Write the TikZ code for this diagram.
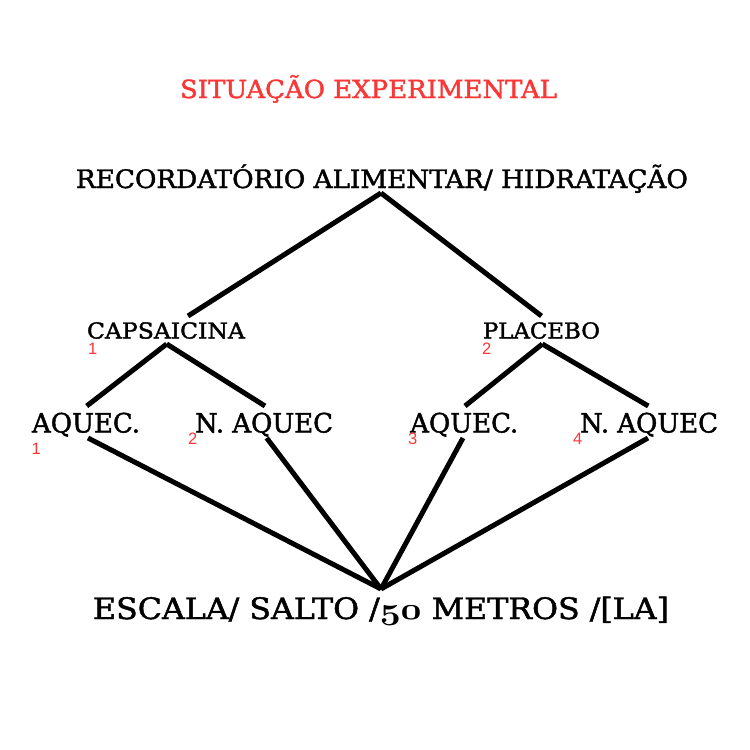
\documentclass[tikz,border=0pt]{standalone}
\usepackage{fontspec}
\usepackage{graphicx}
\usetikzlibrary{calc}
\setmainfont{DejaVu Serif Condensed}[FakeBold=1.5]
\newfontfamily\numfont{Liberation Sans}
\definecolor{titred}{RGB}{250,55,55}
% resize text #3 to width #1 (pt) and cap height #2 (pt)
\newcommand\fitcap[3]{\setbox0\hbox{#3}\setbox2\hbox{H}%
  \pgfmathsetmacro\fitsx{#1/\wd0}\pgfmathsetmacro\fitsy{#2/\ht2}%
  \scalebox{\fitsx}[\fitsy]{\box0}}
\begin{document}
\begin{tikzpicture}[x=1pt,y=-1pt,
  lbl/.style={inner sep=0pt,anchor=base,font=\fontsize{20}{24}\selectfont},
  num/.style={inner sep=0pt,anchor=base west,text=titred,font=\numfont\fontsize{16.5}{16.5}\selectfont},
  conn/.style={line width=5pt}]
\useasboundingbox (0,0) rectangle (750,750);
% texts
\node[lbl,text=titred] (title) at (368.5,98) {\fitcap{377}{18.2}{SITUAÇÃO EXPERIMENTAL}};
\node[lbl] (rec) at (382,188) {\fitcap{612}{18.5}{RECORDATÓRIO ALIMENTAR/ HIDRATAÇÃO}};
\node[lbl] (caps) at (166,338.5) {\fitcap{158}{16}{CAPSAICINA}};
\node[lbl] (plac) at (541.5,338.5) {\fitcap{117}{16}{PLACEBO}};
\node[lbl] (a1) at (86,432.5) {\fitcap{108}{19.5}{AQUEC.}};
\node[lbl] (n2) at (264,432.5) {\fitcap{138}{19.5}{N. AQUEC}};
\node[lbl] (a3) at (464.2,432.5) {\fitcap{108}{19.5}{AQUEC.}};
\node[lbl] (n4) at (649,432.5) {\fitcap{138}{19.5}{N. AQUEC}};
\node[lbl] (esc) at (381,619) {\fitcap{576}{21.5}{ESCALA/ SALTO /{\usefont{OML}{cmm}{b}{it}50} METROS /[LA]}};
% red numbers
\node[num] (k1) at (88,354) {1};
\node[num] (k2) at (482,354) {2};
\node[num] (m1) at (31.5,454) {1};
\node[num] (m2) at (188,444) {2};
\node[num] (m3) at (408,444) {3};
\node[num] (m4) at (573,444) {4};
% connectors
\draw[conn] ($(rec.base)+(-1,5)$) -- ($(caps.base)+(22,-22.5)$);
\draw[conn] ($(rec.base)+(-1,5)$) -- ($(plac.base)+(0,-22.5)$);
\draw[conn] ($(caps.base)+(0.7,5.5)$) -- ($(a1.base)+(0.7,-26.5)$);
\draw[conn] ($(caps.base)+(0.7,5.5)$) -- ($(n2.base)+(1,-26.5)$);
\draw[conn] ($(plac.base)+(0.8,5.5)$) -- ($(a3.base)+(0.8,-26.5)$);
\draw[conn] ($(plac.base)+(0.8,5.5)$) -- ($(n4.base)+(-0.7,-26.5)$);
\draw[conn] ($(a1.base)+(2,5.5)$) -- ($(esc.base)+(0,-30)$);
\draw[conn] ($(n2.base)+(2.7,5.5)$) -- ($(esc.base)+(0,-30)$);
\draw[conn] ($(a3.base)+(-1.2,5.5)$) -- ($(esc.base)+(0,-30)$);
\draw[conn] ($(n4.base)+(-1,5.5)$) -- ($(esc.base)+(0,-30)$);
\end{tikzpicture}
\end{document}
